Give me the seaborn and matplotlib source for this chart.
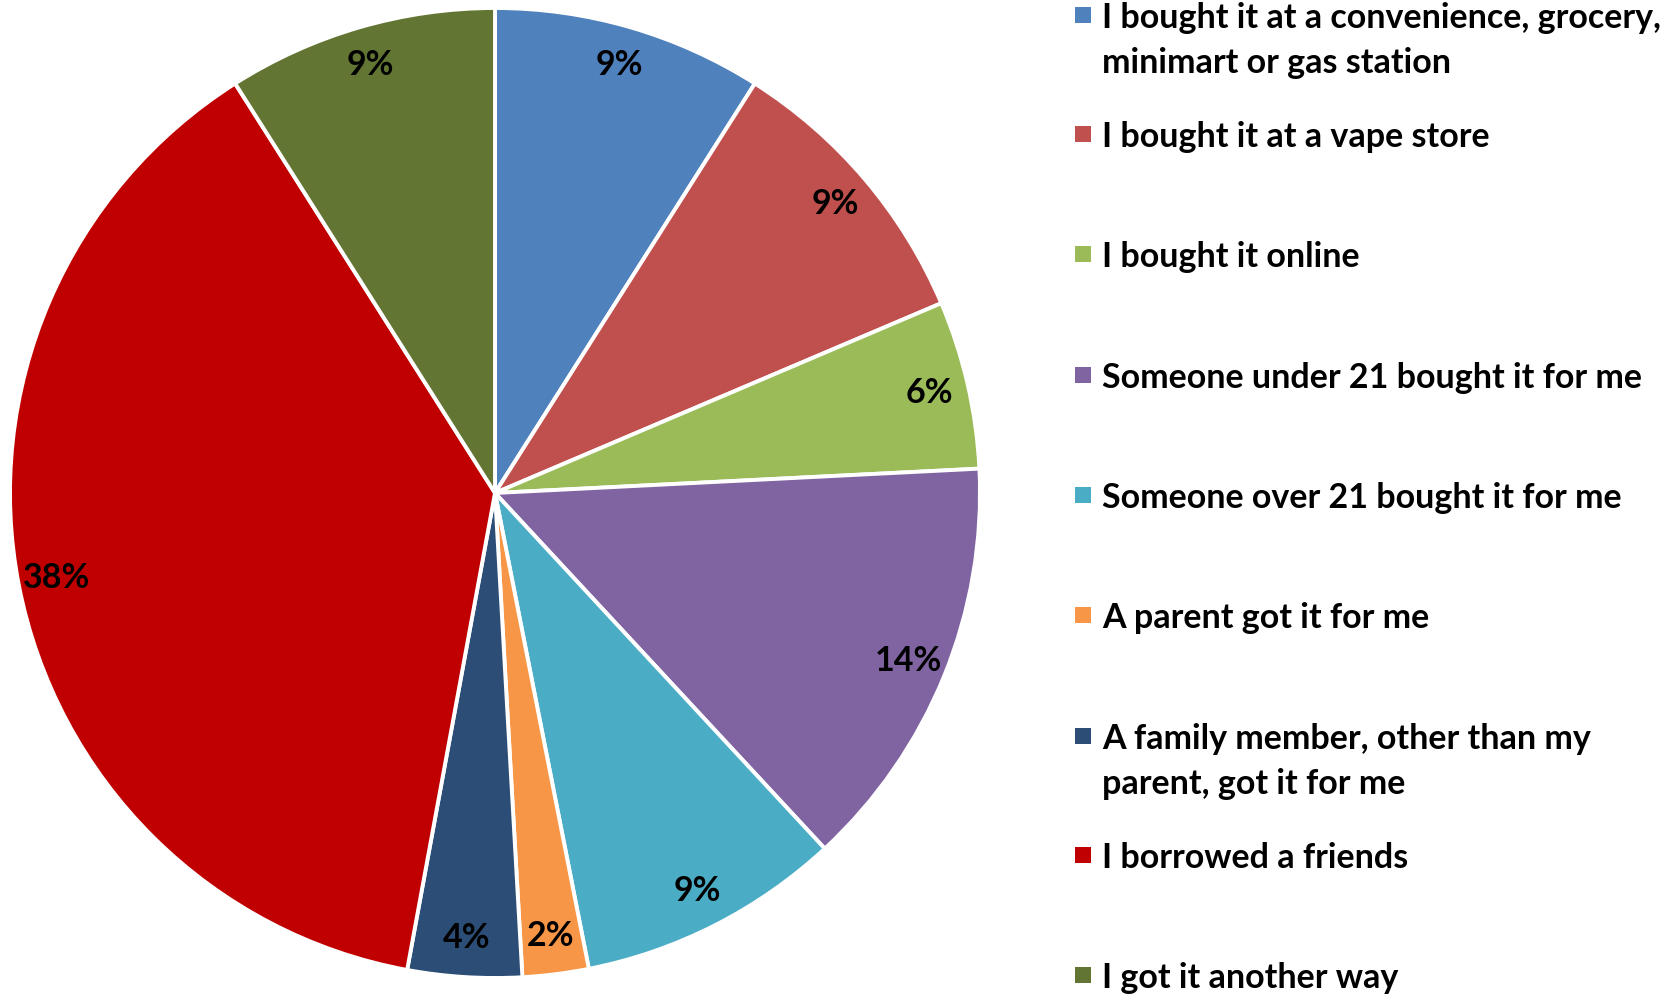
import matplotlib
matplotlib.use("Agg")
import matplotlib.pyplot as plt
from matplotlib.patches import Rectangle
import seaborn as sns

categories = [
    "I bought it at a convenience, grocery,\nminimart or gas station",
    "I bought it at a vape store",
    "I bought it online",
    "Someone under 21 bought it for me",
    "Someone over 21 bought it for me",
    "A parent got it for me",
    "A family member, other than my\nparent, got it for me",
    "I borrowed a friends",
    "I got it another way",
]
values = [9.0, 9.6, 5.6, 13.9, 8.8, 2.2, 3.8, 38.1, 9.0]
pct_labels = ["9%", "9%", "6%", "14%", "9%", "2%", "4%", "38%", "9%"]
colors = ["#4F81BD", "#C0504D", "#9BBB59", "#8064A2", "#4BACC6",
          "#F79646", "#2C4D75", "#C00000", "#627532"]

sns.set_theme(style="white")
plt.rcParams["font.family"] = ["Lato", "DejaVu Sans"]

FS = 24.5
W, H = 1680, 994
fig = plt.figure(figsize=(W / 100, H / 100), dpi=100)
cx, cy, r = 495, 493, 485
ax = fig.add_axes([(cx - r) / W, (H - cy - r) / H, 2 * r / W, 2 * r / H])

lab_iter = iter(pct_labels)
wedges, texts, autotexts = ax.pie(
    values, colors=sns.color_palette(colors), startangle=90, counterclock=False,
    radius=1.0, autopct=lambda p: next(lab_iter), pctdistance=0.92,
    wedgeprops=dict(edgecolor="white", linewidth=2.8),
    textprops=dict(fontsize=FS, fontweight="bold", color="black"),
)
ax.set_xlim(-1, 1)
ax.set_ylim(-1, 1)
ax.set_aspect("equal")
ax.axis("off")

# legend (Excel style, uniform spacing)
y_centers = [15, 134, 254, 375, 495, 615, 736, 855, 975]
line_gap = 45
sq = 16
for name, col, yc in zip(categories, colors, y_centers):
    fig.patches.append(Rectangle((1075 / W, (H - yc - sq / 2) / H), sq / W, sq / H,
                                 transform=fig.transFigure, facecolor=col, edgecolor="none"))
    for k, line in enumerate(name.split("\n")):
        fig.text(1102 / W, (H - yc - k * line_gap) / H, line, ha="left",
                 va="center_baseline", fontsize=FS, fontweight="bold", color="black")

fig.savefig("out.png", dpi=100, facecolor="white")
